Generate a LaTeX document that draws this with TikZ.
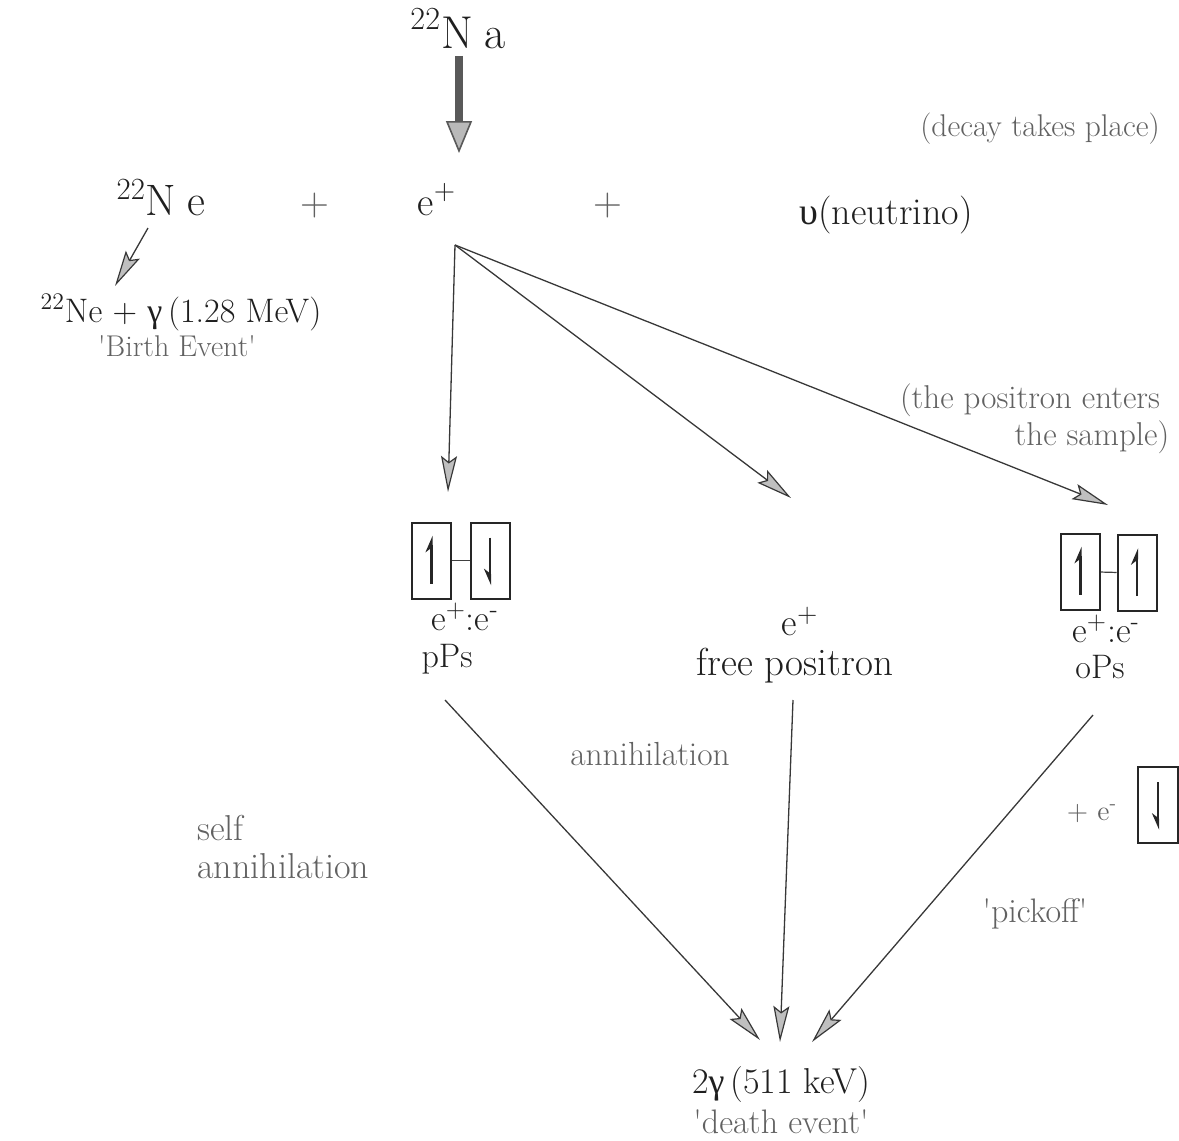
\documentclass[tikz,border=0pt]{standalone}
\usepackage{fontspec}
\newfontfamily\grk{Liberation Serif}
\usetikzlibrary{arrows.meta}
\newcommand{\fs}[1]{\fontsize{#1}{#1}\selectfont}
\newcommand{\sq}{\textquotesingle}
\begin{document}
\begin{tikzpicture}[x=0.5pt,y=-0.5pt,
 lbl/.style={text=black!88, inner sep=0pt, anchor=base},
 note/.style={text=black!62, inner sep=0pt, anchor=base},
 notew/.style={text=black!62, inner sep=0pt, anchor=base west},
 conn/.style={draw=black!78, line width=0.65pt, -{Stealth[length=18pt,width=8pt,inset=3pt,fill=gray!50,line width=0.6pt]}},
 bigarrow/.style={draw=black!65, line width=4pt, shorten <=3.5pt, -{Triangle[length=16pt,width=13pt,fill=gray!55,line width=0.8pt]}},
 spinbox/.style={draw=black!85, line width=1pt, minimum width=19.5pt, minimum height=38pt, inner sep=0pt},
 spinup/.style={draw=black!85, line width=1.3pt, shorten <=8pt, shorten >=7pt, -{Stealth[harpoon,length=7pt,width=6pt]}},
 spindown/.style={draw=black!85, line width=1.3pt, shorten <=8pt, shorten >=7pt, -{Stealth[harpoon,swap,length=7pt,width=6pt]}},
 bond/.style={draw=black!75, line width=0.6pt}
]
\useasboundingbox (0,0) rectangle (1179,1141);

% top decay
\node[lbl,font=\fs{23}] (na) at (458,48) {\textsuperscript{22}N\hspace{0.25em}a};
\coordinate (natip) at (459,153);
\draw[bigarrow] (na.south -| natip) -- (natip);
\node[note,font=\fs{15.7}] (decay) at (1040,136) {(decay takes place)};

\node[lbl,font=\fs{22}] (nee) at (161,215) {\textsuperscript{22}N\hspace{0.25em}e};
\node[note,font=\fs{20}] (p1) at (315,215) {+};
\node[lbl,font=\fs{20}] (eplus) at (437,215) {e\textsuperscript{+}};
\node[note,font=\fs{20}] (p2) at (608,215) {+};
\node[lbl,font=\fs{19}] (nu) at (886,224) {{\grk υ}(neutrino)};

% birth event
\coordinate (gs) at (148,228);
\coordinate (ge) at (115,286);
\draw[conn] (gs) -- (ge);
\node[lbl,font=\fs{17}] (ney) at (181,322) {\textsuperscript{22}Ne + {\grk γ}\,(1.28 MeV)};
\node[note,font=\fs{15}] (birth) at (177,356) {\sq Birth Event\sq};

% positron paths
\coordinate (src) at (455,245);
\coordinate (tp) at (448,492);
\coordinate (tf) at (791,498);
\coordinate (to) at (1108,505);
\draw[conn] (src) -- (tp);
\draw[conn] (src) -- (tf);
\draw[conn] (src) -- (to);
\node[note,font=\fs{16.5}] (ent1) at (1030,408) {(the positron enters};
\node[note,font=\fs{16.5}] (ent2) at (1092,445) {the sample)};

% pPs
\node[spinbox] (pa) at (431.5,560.5) {};
\node[spinbox] (pb) at (490,560.5) {};
\draw[bond] (pa) -- (pb);
\draw[spinup] (pa.south) -- (pa.north);
\draw[spindown] (pb.north) -- (pb.south);
\node[lbl,font=\fs{18}] (pel) at (465,630) {e\textsuperscript{+}:e\textsuperscript{-}};
\node[lbl,font=\fs{17}] (pps) at (447,667) {pPs};

% free positron
\node[lbl,font=\fs{19}] (fe) at (800,635) {e\textsuperscript{+}};
\node[lbl,font=\fs{19.5}] (free) at (795,675) {free positron};

% oPs
\node[spinbox] (oa) at (1080.5,571.5) {};
\node[spinbox] (ob) at (1137,573) {};
\draw[bond] (oa) -- (ob);
\draw[spinup] (oa.south) -- (oa.north);
\draw[spinup] (ob.south) -- (ob.north);
\node[lbl,font=\fs{18}] (oel) at (1106,642) {e\textsuperscript{+}:e\textsuperscript{-}};
\node[lbl,font=\fs{17}] (ops) at (1100,678) {oPs};

% to death
\coordinate (s1) at (445,700);
\coordinate (s2) at (793,700);
\coordinate (s3) at (1093,715);
\coordinate (d1) at (760,1040);
\coordinate (d2) at (780,1042);
\coordinate (d3) at (812,1042);
\draw[conn] (s1) -- (d1);
\draw[conn] (s2) -- (d2);
\draw[conn] (s3) -- (d3);

\node[note,font=\fs{16.7}] (ann) at (650,765) {annihilation};
\node[notew,font=\fs{18}] (self1) at (197,840) {self};
\node[notew,font=\fs{18}] (self2) at (197,878) {annihilation};

\node[note,font=\fs{14}] (pe) at (1092,820) {+ e\textsuperscript{-}};
\node[spinbox, minimum width=20pt] (kb) at (1158,805) {};
\draw[spindown] (kb.north) -- (kb.south);
\node[note,font=\fs{17}] (pick) at (1035,922) {\sq pickoff\sq};

\node[lbl,font=\fs{18}] (gg) at (781,1093) {2{\grk γ}\,(511 keV)};
\node[note,font=\fs{17}] (death) at (781,1133) {\sq death\hspace{0.3em}event\sq};
\end{tikzpicture}
\end{document}
